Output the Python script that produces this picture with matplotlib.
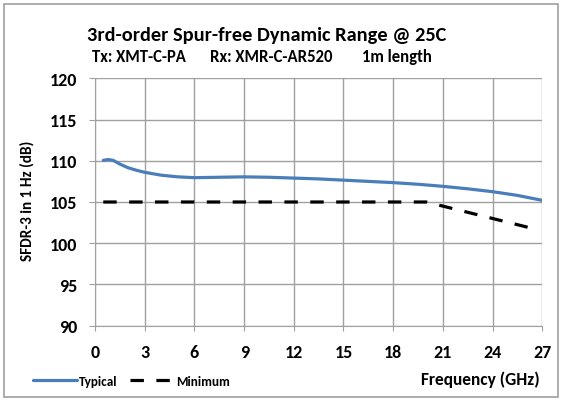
import matplotlib
matplotlib.use('Agg')
import matplotlib.pyplot as plt
from matplotlib.patches import Rectangle

# data
freq_typ = [0.5, 0.8, 1.1, 1.5, 2, 2.5, 3, 4, 5, 6, 7.5, 9, 10.5, 12, 13.5,
            15, 16.5, 18, 19.5, 21, 22.5, 24, 25.5, 27]
sfdr_typ = [110.05, 110.15, 110.05, 109.6, 109.15, 108.85, 108.6, 108.25, 108.05,
            107.95, 108.0, 108.05, 108.0, 107.9, 107.8, 107.65, 107.5, 107.35,
            107.15, 106.9, 106.6, 106.25, 105.8, 105.2]
freq_min = [0.5, 20, 26.2]
sfdr_min = [105, 105, 101.9]
x_ticks = [0, 3, 6, 9, 12, 15, 18, 21, 24, 27]
y_ticks = [90, 95, 100, 105, 110, 115, 120]

FONT = 'Carlito'
plt.rcParams['font.family'] = FONT
plt.rcParams['font.weight'] = 'bold'

W, H = 564, 402
fig = plt.figure(figsize=(W / 100, H / 100), dpi=100)
ax = fig.add_axes([95 / W, 1 - 326.7 / H, 447.3 / W, 247.4 / H])

grid_col = '#a0a0a0'
ax.plot(freq_typ, sfdr_typ, color='#4a7ebb', lw=2.3, label='Typical',
        solid_capstyle='round', zorder=3)
ax.plot(freq_min, sfdr_min, color='black', lw=2.3, dashes=(4.2, 3.9),
        label='Minimum', zorder=3)

ax.set_xlim(0, 27)
ax.set_ylim(90, 120)
ax.set_xticks(x_ticks)
ax.set_yticks(y_ticks)
ax.grid(True, color=grid_col, lw=1.0)
for s in ['top', 'right']:
    ax.spines[s].set_visible(False)
ax.spines['left'].set_color(grid_col)
ax.spines['bottom'].set_color(grid_col)
ax.tick_params(axis='y', length=4.3, color=grid_col, labelsize=13, pad=8.6)
ax.tick_params(axis='x', length=3.6, color=grid_col, labelsize=13, pad=9.5)
for lab in ax.get_xticklabels() + ax.get_yticklabels():
    lab.set_family(FONT)
    lab.set_fontweight('bold')
ax.set_ylabel('SFDR-3 in 1 Hz (dB)', fontsize=11, fontweight='bold', family=FONT)
ax.yaxis.set_label_coords(35 / W, 0.5, transform=fig.transFigure)

fig.text(267 / W, 1 - 35 / H, '3rd-order Spur-free Dynamic Range @ 25C',
         ha='center', va='center', fontsize=14.7, fontweight='bold', family=FONT)
for x0, s in [(92, 'Tx: XMT-C-PA'), (210, 'Rx: XMR-C-AR520'), (362, '1m length')]:
    fig.text(x0 / W, 1 - 57 / H, s, ha='left', va='center',
             fontsize=12, fontweight='bold', family=FONT)
fig.text(539.5 / W, 1 - 380 / H, 'Frequency (GHz)', ha='right', va='center',
         fontsize=12.5, fontweight='bold', family=FONT)

leg = fig.legend(loc='center left', bbox_to_anchor=(28 / W, 1 - 382 / H), ncol=2,
                 frameon=False, handlelength=3.3,
                 handletextpad=0.15, columnspacing=1.0, borderaxespad=0,
                 prop={'family': FONT, 'weight': 'bold', 'size': 9.5})

fig.patches.append(Rectangle((4 / W, 4 / H), 1 - 10 / W, 1 - 9 / H,
                             transform=fig.transFigure, fill=False,
                             edgecolor='#a0a0a0', lw=1.2))

fig.savefig('out.png', dpi=100)
plt.close(fig)
